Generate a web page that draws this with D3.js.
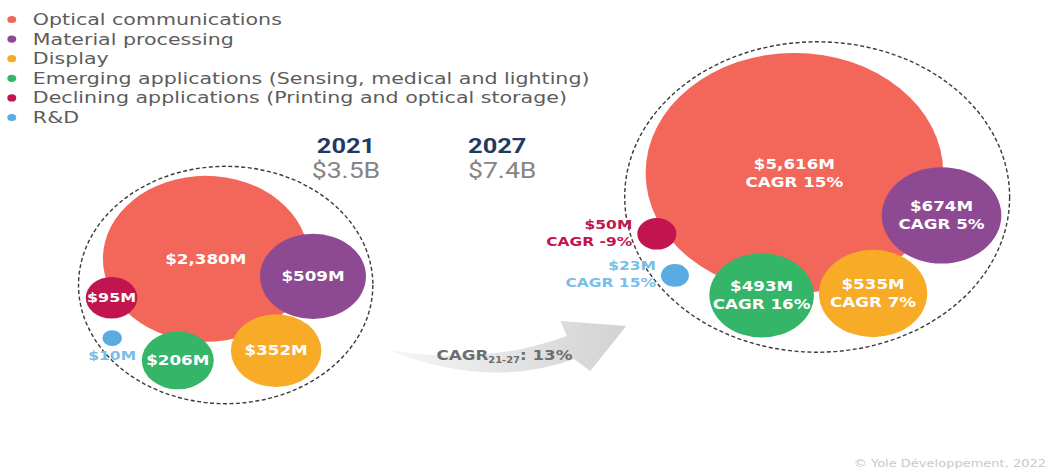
<!DOCTYPE html>
<html>
<head>
<meta charset="utf-8">
<script src="https://cdn.jsdelivr.net/npm/d3@7"></script>
<style>
  html, body { margin: 0; padding: 0; background: #fff; }
  svg { display: block; }
</style>
</head>
<body>
<svg id="chart"></svg>
<script>
// Data
const categories = [
  'Optical communications',
  'Material processing',
  'Display',
  'Emerging applications (Sensing, medical and lighting)',
  'Declining applications (Printing and optical storage)',
  'R&D'
];
const years = ['2021', '2027'];
const totals = ['$3.5B', '$7.4B'];
const values2021 = [2380, 509, 352, 206, 95, 10];
const values2027 = [5616, 674, 535, 493, 50, 23];
const cagr2027 = [15, 5, 7, 16, -9, 15];
const cagrTotal = 13;
const cagrPeriod = '21-27';
const credit = '© Yole Développement, 2022';

const colors = ['#f3665a', '#8d4a93', '#f8ab26', '#34b567', '#c2144f', '#5aabe2'];
const outsideLabelColors = ['#f3665a', '#8d4a93', '#f8ab26', '#34b567', '#c2144f', '#79bde9'];

// satellites go clockwise round the biggest bubble in this order
const fanOrder = [1, 2, 3, 5, 4];

const width = 1051, height = 472;
const stretch = 1.24;              // the picture is widened horizontally
const vw = width / stretch;

const svg = d3.select('#chart')
  .attr('width', width)
  .attr('height', height)
  .attr('viewBox', `0 0 ${vw} ${height}`)
  .attr('preserveAspectRatio', 'none');

const defs = svg.append('defs');
const grad = defs.append('linearGradient').attr('id', 'arrowGrad')
  .attr('x1', '0%').attr('x2', '100%').attr('y1', '0%').attr('y2', '0%');
grad.append('stop').attr('offset', '0%').attr('stop-color', '#f6f6f6');
grad.append('stop').attr('offset', '100%').attr('stop-color', '#d2d2d2');

// one shared size scale for both years
const radius = d3.scalePow().exponent(0.43)
  .domain([0, d3.max(values2021.concat(values2027))])
  .range([0, 120]);

const panels = [
  { year: years[0], total: totals[0], values: values2021, cagr: null, cx: 182, cy: 285, start: 12, end: 152 },
  { year: years[1], total: totals[1], values: values2027, cagr: cagr2027, cx: 659, cy: 197, start: 20, end: 150 }
];

function layout(values, startDeg, endDeg) {
  const nodes = values.map((v, i) => ({ i, v, r: radius(v) }));
  const hub = nodes[0];
  hub.x = 0; hub.y = 0;
  const sats = fanOrder.map(i => nodes[i]);
  const steps = d3.pairs(sats, (a, b) => a.r + b.r + 30);
  const angle = d3.scaleLinear()
    .domain([0, d3.sum(steps)])
    .range([startDeg, endDeg].map(d => d * Math.PI / 180));
  let acc = 0;
  sats.forEach((s, k) => {
    if (k > 0) acc += steps[k - 1];
    const a = angle(acc), d = hub.r + s.r * 0.2;
    s.x = d * Math.cos(a);
    s.y = d * Math.sin(a);
  });
  const ring = d3.packEnclose(nodes);
  // push every bubble out until it touches the ring
  nodes.forEach(n => {
    const dx = n.x - ring.x, dy = n.y - ring.y, len = Math.hypot(dx, dy) || 1;
    const d = ring.r - n.r - 2;
    n.x = ring.x + dx / len * d;
    n.y = ring.y + dy / len * d;
  });
  return { nodes, ring };
}

// small bubbles get their label outside: above, below, left or right, whichever is free
function labelSpot(d, nodes, lines, fs, lh) {
  const w = d3.max(lines, s => s.length) * fs * 0.72;
  const h = lines.length * lh;
  const spots = [
    { anchor: 'middle', x: d.x, x0: d.x - w / 2, top: d.y - d.r - 3 - h },
    { anchor: 'middle', x: d.x, x0: d.x - w / 2, top: d.y + d.r + 2 },
    { anchor: 'end', x: d.x - d.r - 4, x0: d.x - d.r - 4 - w, top: d.y - h / 2 },
    { anchor: 'start', x: d.x + d.r + 4, x0: d.x + d.r + 4, top: d.y - h / 2 }
  ];
  const hits = s => nodes.filter(n => n !== d).filter(n => {
    const cx = Math.max(s.x0, Math.min(n.x, s.x0 + w));
    const cy = Math.max(s.top, Math.min(n.y, s.top + h));
    return Math.hypot(n.x - cx, n.y - cy) < n.r;
  }).length;
  return spots.find(s => hits(s) === 0) || spots[0];
}

const fmt = d3.format(',');

panels.forEach(p => {
  const { nodes, ring } = layout(p.values, p.start, p.end);
  const x = d3.scaleLinear().domain([ring.x - 1, ring.x + 1]).range([p.cx - 1, p.cx + 1]);
  const y = d3.scaleLinear().domain([ring.y - 1, ring.y + 1]).range([p.cy - 1, p.cy + 1]);
  const g = svg.append('g');

  g.selectAll('circle.bubble')
    .data(nodes)
    .join('circle')
    .attr('class', 'bubble')
    .attr('cx', d => x(d.x))
    .attr('cy', d => y(d.y))
    .attr('r', d => d.r)
    .attr('fill', d => colors[d.i]);

  g.append('circle')
    .attr('cx', x(ring.x))
    .attr('cy', y(ring.y))
    .attr('r', ring.r + 3)
    .attr('fill', 'none')
    .attr('stroke', '#3a3a3a')
    .attr('stroke-width', 1.4)
    .attr('stroke-dasharray', '4 2.5')
    .attr('vector-effect', 'non-scaling-stroke');

  nodes.forEach(d => {
    const lines = [`$${fmt(d.v)}M`];
    if (p.cagr) lines.push(`CAGR ${p.cagr[d.i]}%`);
    const inside = d.r > 18;
    const fs = inside ? Math.min(13.5, d.r * 0.62) : 12.5;
    const lh = fs * 1.35;
    const t = g.append('text')
      .attr('font-family', 'DejaVu Sans, sans-serif')
      .attr('font-weight', 'bold')
      .attr('font-size', fs)
      .attr('fill', inside ? '#fff' : outsideLabelColors[d.i]);
    let tx = x(d.x), y0, anchor = 'middle';
    if (inside) {
      y0 = y(d.y) - (lines.length - 1) * lh / 2 + fs * 0.36;
    } else {
      const s = labelSpot(d, nodes, lines, fs, lh);
      tx = x(s.x);
      anchor = s.anchor;
      y0 = y(s.top) + fs * 0.95;
    }
    t.attr('text-anchor', anchor);
    lines.forEach((s, k) => {
      t.append('tspan').attr('x', tx).attr('y', y0 + k * lh).text(s);
    });
  });
});

// year headings
const heads = [{ x: 279 }, { x: 401 }];
heads.forEach((h, i) => {
  svg.append('text').attr('x', h.x).attr('y', 153)
    .attr('text-anchor', 'middle')
    .attr('font-family', 'Roboto, sans-serif').attr('font-weight', 'bold')
    .attr('font-size', 20.5).attr('fill', '#1f3a60')
    .text(years[i]);
  svg.append('text').attr('x', h.x + (i ? 4 : 0)).attr('y', 178)
    .attr('text-anchor', 'middle')
    .attr('font-family', 'Roboto, sans-serif')
    .attr('font-size', 21.5).attr('fill', '#858585')
    .text(totals[i]);
});

// legend
const legend = svg.append('g').attr('transform', 'translate(9.5,19.5)');
const row = legend.selectAll('g')
  .data(categories)
  .join('g')
  .attr('transform', (d, i) => `translate(0,${i * 19.6})`);
row.append('circle').attr('r', 3.6).attr('fill', (d, i) => colors[i]);
row.append('text')
  .attr('x', 17).attr('y', 5.5)
  .attr('font-family', 'DejaVu Sans, sans-serif')
  .attr('font-size', 16.6)
  .attr('fill', '#5c5c5c')
  .text(d => d);

// growth arrow between the two years
const path = d3.path();
path.moveTo(313, 350);
path.quadraticCurveTo(395, 390, 463, 359);
path.lineTo(476, 371);
path.lineTo(505, 326);
path.lineTo(452, 321);
path.lineTo(457, 336);
path.quadraticCurveTo(392, 366, 313, 350);
path.closePath();
svg.append('path').attr('d', path.toString()).attr('fill', 'url(#arrowGrad)');

const cg = svg.append('text').attr('x', 352).attr('y', 360)
  .attr('font-family', 'DejaVu Sans, sans-serif').attr('font-weight', 'bold')
  .attr('font-size', 13.5).attr('fill', '#6e6e6e');
cg.append('tspan').text('CAGR');
cg.append('tspan').attr('font-size', 8).attr('dy', 3).text(cagrPeriod);
cg.append('tspan').attr('dy', -3).text(`: ${cagrTotal}%`);

svg.append('text').attr('x', vw - 4).attr('y', 467)
  .attr('text-anchor', 'end')
  .attr('font-family', 'DejaVu Sans, sans-serif')
  .attr('font-size', 10.5).attr('fill', '#c9c9c9')
  .text(credit);
</script>
</body>
</html>
